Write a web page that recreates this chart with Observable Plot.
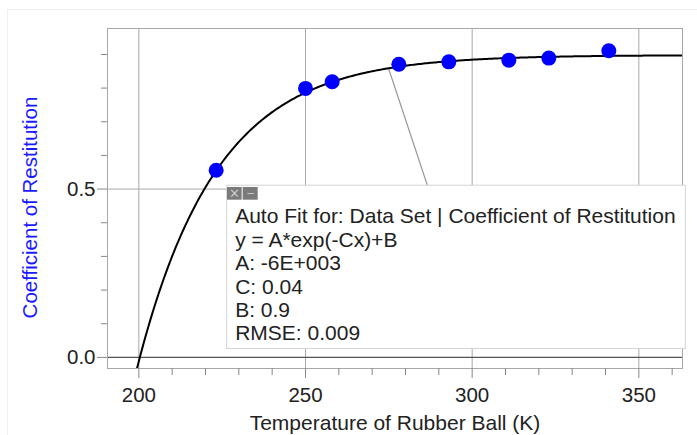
<!DOCTYPE html>
<html>
<head>
<meta charset="utf-8">
<script src="https://cdn.jsdelivr.net/npm/d3@7"></script>
<script src="https://cdn.jsdelivr.net/npm/@observablehq/plot@0.6"></script>
<style>
  html, body { margin: 0; padding: 0; background: #fff; }
  #wrap { position: relative; width: 697px; height: 435px; }
  #edge { position: absolute; left: 7px; top: 9px; right: 0; bottom: 0; border-top: 1px solid #f0f0f0; border-left: 1px solid #f0f0f0; pointer-events: none; }
</style>
</head>
<body>
<div id="wrap"><div id="edge"></div></div>
<script>
// ---- data ----
const temperature = [223.2, 250, 258, 278, 293, 311, 323, 341];
const restitution = [0.556, 0.799, 0.819, 0.871, 0.878, 0.883, 0.889, 0.911];

const xMajorTicks = [200, 250, 300, 350];
const xMinorTicks = [210, 220, 230, 240, 260, 270, 280, 290, 310, 320, 330, 340, 360];
const yMajorTicks = [0, 0.5];
const yMinorTicks = [0.1, 0.2, 0.3, 0.4, 0.6, 0.7, 0.8, 0.9];

const xLabel = "Temperature of Rubber Ball (K)";
const yLabel = "Coefficient of Restitution";
const fitLines = [
  "Auto Fit for: Data Set | Coefficient of Restitution",
  "y = A*exp(-Cx)+B",
  "A: -6E+003",
  "C: 0.04",
  "B: 0.9",
  "RMSE: 0.009"
];

// fitted model y = A*exp(-C x) + B (unrounded parameters)
const fitB = 0.898;
const fitC = 0.042;
const fitX0 = 200.3;             // x-intercept of the curve
const fitA = -fitB * Math.exp(fitC * fitX0);
const fit = x => fitA * Math.exp(-fitC * x) + fitB;
const curveX = d3.range(195, 364.01, 0.5);

// annotation placement (data units)
const box = {x1: 226.5, x2: 364.1, y1: 0.025, y2: 0.51};
const leader = {x1: 274.9, x2: 286.6, y2: 0.51};
const icons = [
  {x1: 226.6, x2: 231.0, glyph: "✕"},
  {x1: 231.3, x2: 235.8, glyph: "−"}
];
const iconY = [0.467, 0.5047];

const points = temperature.map((t, i) => ({t, r: restitution[i]}));

const font = "'Liberation Sans', Arial, Helvetica, sans-serif";

const chart = Plot.plot({
  width: 697,
  height: 435,
  marginLeft: 107,
  marginRight: 15,
  marginTop: 28,
  marginBottom: 67,
  x: {domain: [190.6, 363.1]},
  y: {domain: [-0.033, 0.977]},
  style: {fontFamily: font, fontSize: "20.5px", color: "#222", background: "transparent", overflow: "visible"},
  marks: [
    Plot.gridX(xMajorTicks, {stroke: "#a8a8a8", strokeOpacity: 1}),
    Plot.gridY([0.5], {stroke: "#a8a8a8", strokeOpacity: 1}),
    Plot.ruleY([0], {stroke: "#555", strokeWidth: 1.4}),
    Plot.frame({stroke: "#a8a8a8"}),
    Plot.axisX(xMinorTicks, {tickSize: 7, tickFormat: () => "", label: null, stroke: "#888"}),
    Plot.axisX(xMajorTicks, {tickSize: 10, tickPadding: 9, tickFormat: "d", label: null, stroke: "#888", fill: "#222"}),
    Plot.axisY(yMinorTicks, {tickSize: 6, tickFormat: () => "", label: null, stroke: "#888"}),
    Plot.axisY(yMajorTicks, {tickSize: 10, tickPadding: 2, tickFormat: d => d.toFixed(1), label: null, stroke: "#888", fill: "#222"}),
    Plot.text([xLabel], {frameAnchor: "bottom", text: d => d, dy: 61, fontSize: 21, fill: "#222"}),
    Plot.text([yLabel], {frameAnchor: "left", textAnchor: "middle", text: d => d, rotate: -90, dx: -77, dy: 9, fontSize: 20.5, fill: "#1a1aff"}),
    Plot.link([leader], {x1: "x1", y1: d => fit(d.x1), x2: "x2", y2: "y2", stroke: "#999", strokeWidth: 1.2}),
    Plot.line(curveX, {x: d => d, y: d => fit(d), stroke: "#000", strokeWidth: 2, clip: true}),
    Plot.dot(points, {x: "t", y: "r", r: 7.5, fill: "#0000ff", stroke: "none"}),
    Plot.rect([box], {x1: "x1", x2: "x2", y1: "y1", y2: "y2", fill: "white", stroke: "#d4d4d4"}),
    Plot.rect(icons, {x1: "x1", x2: "x2", y1: () => iconY[0], y2: () => iconY[1], fill: "#7a7a7a"}),
    Plot.text(icons, {x: d => (d.x1 + d.x2) / 2, y: () => (iconY[0] + iconY[1]) / 2, text: "glyph", fill: "#c8c8c8", fontSize: 13}),
    Plot.text([fitLines.join("\n")], {x: () => 228.9, y: () => box.y2, text: d => d, textAnchor: "start", lineAnchor: "top", lineHeight: 1.115, dy: 21, fontSize: 21, fill: "#222"})
  ]
});

document.getElementById("wrap").appendChild(chart);
chart.style.position = "absolute";
chart.style.left = "0";
chart.style.top = "0";
</script>
</body>
</html>
